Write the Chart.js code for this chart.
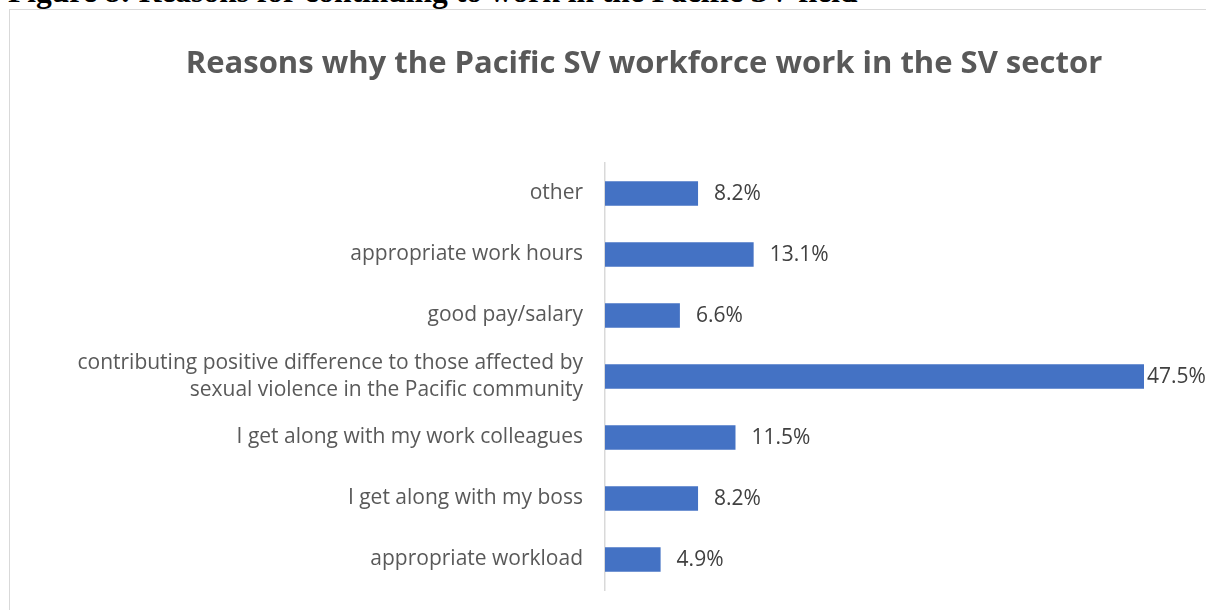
<!DOCTYPE html>
<html>
<head>
<meta charset="utf-8">
<script src="https://cdn.jsdelivr.net/npm/chart.js@4/dist/chart.umd.min.js"></script>
<style>
  html, body { margin: 0; padding: 0; background: #fff; width: 1206px; height: 610px; overflow: hidden; }
  #caption { position: absolute; left: 8px; top: -26px; font-family: "Liberation Serif", serif; font-weight: bold; font-size: 31.5px; color: #000; white-space: nowrap; line-height: 36px; }
  #box { position: absolute; left: 9px; top: 9px; width: 1210px; height: 620px; border-left: 1.5px solid #d9d9d9; border-top: 1.5px solid #d9d9d9; box-sizing: border-box; }
  #wrap { position: absolute; left: 10px; top: 10px; width: 1196px; height: 600px; }
</style>
</head>
<body>
<div id="caption">Figure 8: Reasons for continuing to work in the Pacific SV field</div>
<div id="box"></div>
<div id="wrap"><canvas id="c" width="1196" height="600"></canvas></div>
<script>
const chartTitle = "Reasons why the Pacific SV workforce work in the SV sector";
const categories = [
  "other",
  "appropriate work hours",
  "good pay/salary",
  ["contributing positive difference to those affected by", "sexual violence in the Pacific community"],
  "I get along with my work colleagues",
  "I get along with my boss",
  "appropriate workload"
];
const percentages = [8.2, 13.1, 6.6, 47.5, 11.5, 8.2, 4.9];
const valueLabels = ["8.2%", "13.1%", "6.6%", "47.5%", "11.5%", "8.2%", "4.9%"];

const titlePlugin = {
  id: 'customTitle',
  afterDraw(chart) {
    const ctx = chart.ctx;
    ctx.save();
    ctx.font = 'bold 31px "Open Sans"';
    ctx.fillStyle = '#595959';
    ctx.textAlign = 'center';
    ctx.textBaseline = 'middle';
    ctx.fillText(chartTitle, 634, 54);
    ctx.restore();
  }
};

const labelPlugin = {
  id: 'valueLabels',
  afterDatasetsDraw(chart) {
    const ctx = chart.ctx;
    const meta = chart.getDatasetMeta(0);
    ctx.save();
    ctx.font = '21px "Open Sans"';
    ctx.fillStyle = '#404040';
    ctx.textAlign = 'left';
    ctx.textBaseline = 'middle';
    meta.data.forEach((bar, i) => {
      ctx.fillText(valueLabels[i], bar.x + (percentages[i] > 40 ? 3 : 16), bar.y + 1);
    });
    ctx.restore();
  }
};

new Chart(document.getElementById('c'), {
  type: 'bar',
  data: {
    labels: categories,
    datasets: [{
      data: percentages,
      backgroundColor: '#4472C4',
      borderWidth: 0,
      categoryPercentage: 1,
      barPercentage: 0.4
    }]
  },
  options: {
    indexAxis: 'y',
    responsive: false,
    animation: false,
    layout: { padding: { left: 0, right: 62, top: 153, bottom: 20 } },
    plugins: {
      legend: { display: false },
      tooltip: { enabled: false },
      title: { display: false }
    },
    scales: {
      x: {
        display: false,
        min: 0,
        max: 47.5
      },
      y: {
        afterFit(scale) { scale.width = 595; scale.paddingTop = 0; scale.paddingBottom = 0; },
        grid: { display: false, drawTicks: false },
        border: { display: true, color: '#d9d9d9', width: 1.5 },
        ticks: {
          color: '#595959',
          padding: 22,
          font: { family: 'Open Sans', size: 21, lineHeight: 1.3 }
        }
      }
    }
  },
  plugins: [labelPlugin, titlePlugin]
});
</script>
</body>
</html>
